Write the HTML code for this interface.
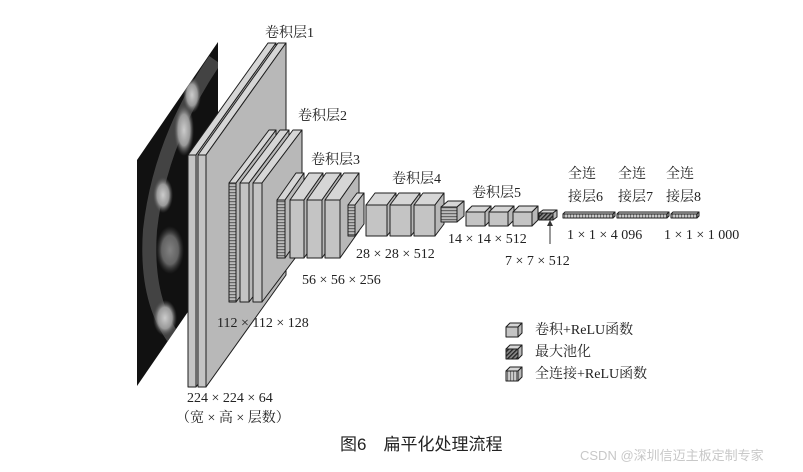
<!DOCTYPE html>
<html><head><meta charset="utf-8">
<style>
html,body{margin:0;padding:0;background:#fff;}
svg{display:block;}
.t{font-family:"Liberation Serif","Noto Serif CJK SC",serif;font-size:14px;fill:#222;}
</style></head>
<body>
<svg id="s" width="803" height="472" viewBox="0 0 803 472" xmlns="http://www.w3.org/2000/svg">
<defs>
<pattern id="hs" width="4" height="3" patternUnits="userSpaceOnUse"><rect width="4" height="3" fill="#bbb"/><rect width="4" height="1.2" fill="#666"/></pattern>
<pattern id="hd" width="3" height="3" patternUnits="userSpaceOnUse" patternTransform="rotate(45)"><rect width="3" height="3" fill="#888"/><rect width="1.3" height="3" fill="#222"/></pattern>
<pattern id="vs" width="3" height="4" patternUnits="userSpaceOnUse"><rect width="3" height="4" fill="#ccc"/><rect width="1.1" height="4" fill="#777"/></pattern>
<radialGradient id="bl" cx="0.5" cy="0.5" r="0.5"><stop offset="0" stop-color="#ccc"/><stop offset="0.6" stop-color="#999"/><stop offset="1" stop-color="#555" stop-opacity="0"/></radialGradient>
<clipPath id="ic"><polygon points="137,160 218,42 218,268 137,386"/></clipPath>
</defs>
<!-- input image -->
<polygon points="137,160 218,42 218,268 137,386" fill="#111"/>
<g clip-path="url(#ic)">
<path d="M215,60 Q160,140 150,230 Q145,300 175,340" stroke="#666" stroke-width="14" fill="none" opacity="0.6"/>
<ellipse cx="184" cy="130" rx="10" ry="26" fill="url(#bl)"/>
<ellipse cx="192" cy="95" rx="9" ry="18" fill="url(#bl)"/>
<ellipse cx="163" cy="195" rx="10" ry="18" fill="url(#bl)"/>
<ellipse cx="170" cy="250" rx="14" ry="24" fill="url(#bl)" opacity="0.6"/>
<ellipse cx="165" cy="318" rx="12" ry="18" fill="url(#bl)"/>
</g>
<g id="boxes"></g>
<!-- arrow -->
<line x1="550" y1="244" x2="550" y2="225" stroke="#333" stroke-width="1"/>
<polygon points="547,226 553,226 550,220" fill="#333"/>
<g id="leg"></g>
<!-- labels -->
<text class="t" x="265" y="37">卷积层1</text>
<text class="t" x="298" y="120">卷积层2</text>
<text class="t" x="311" y="164">卷积层3</text>
<text class="t" x="392" y="183">卷积层4</text>
<text class="t" x="472" y="197">卷积层5</text>
<text class="t" x="568" y="178">全连</text>
<text class="t" x="568" y="201">接层6</text>
<text class="t" x="618" y="178">全连</text>
<text class="t" x="618" y="201">接层7</text>
<text class="t" x="666" y="178">全连</text>
<text class="t" x="666" y="201">接层8</text>
<text class="t" x="567" y="239">1 × 1 × 4 096</text>
<text class="t" x="664" y="239">1 × 1 × 1 000</text>
<text class="t" x="448" y="243">14 × 14 × 512</text>
<text class="t" x="356" y="258">28 × 28 × 512</text>
<text class="t" x="505" y="265">7 × 7 × 512</text>
<text class="t" x="302" y="284">56 × 56 × 256</text>
<text class="t" x="217" y="327">112 × 112 × 128</text>
<text class="t" x="187" y="402">224 × 224 × 64</text>
<text class="t" x="176" y="422">（宽 × 高 × 层数）</text>
<text class="t" x="535" y="334">卷积+ReLU函数</text>
<text class="t" x="535" y="356">最大池化</text>
<text class="t" x="535" y="378">全连接+ReLU函数</text>
<text x="340" y="450" style="font-family:'Liberation Sans','Noto Sans CJK SC',sans-serif;font-size:17px;fill:#222">图6　扁平化处理流程</text>
<text x="580" y="460" style="font-family:'Liberation Sans','Noto Sans CJK SC',sans-serif;font-size:13px;fill:#c8c8c8">CSDN @深圳信迈主板定制专家</text>
</svg>
<script>
var NS="http://www.w3.org/2000/svg";
function poly(g,pts,fill){var p=document.createElementNS(NS,"polygon");p.setAttribute("points",pts.map(function(a){return a.join(",")}).join(" "));p.setAttribute("fill",fill);p.setAttribute("stroke","#1e1e1e");p.setAttribute("stroke-width","1");p.setAttribute("stroke-linejoin","round");g.appendChild(p);}
function box(g,x,y,w,h,dx,dy,front){
 poly(g,[[x,y],[x+dx,y+dy],[x+w+dx,y+dy],[x+w,y]],"#d6d6d6");
 poly(g,[[x+w,y],[x+w+dx,y+dy],[x+w+dx,y+h+dy],[x+w,y+h]],"#b8b8b8");
 poly(g,[[x,y],[x+w,y],[x+w,y+h],[x,y+h]],front||"#c4c4c4");
}
var g=document.getElementById("boxes");
box(g,188,155,8,232,80,-112);
box(g,198,155,8,232,80,-112);
box(g,229,183,7,119,40,-53,"url(#hs)");
box(g,240,183,9,119,40,-53);
box(g,253,183,9,119,40,-53);
box(g,277,200,8,58,19,-27,"url(#hs)");
box(g,290,200,14,58,19,-27);
box(g,307,200,15,58,19,-27);
box(g,325,200,15,58,19,-27);
box(g,348,205,7,31,9,-12,"url(#hs)");
box(g,366,205,21,31,9,-12);
box(g,390,205,21,31,9,-12);
box(g,414,205,21,31,9,-12);
box(g,441,207,16,15,7,-6,"url(#hs)");
box(g,466,212,19,14,6,-6);
box(g,489,212,19,14,6,-6);
box(g,513,212,19,14,6,-6);
box(g,539,213,14,7,4,-3,"url(#hd)");
box(g,563,214,50,4,2,-2,"url(#vs)");
box(g,617,214,50,4,2,-2,"url(#vs)");
box(g,671,214,26,4,2,-2,"url(#vs)");
var l=document.getElementById("leg");
box(l,506,327,12,10,4,-4);
box(l,506,349,12,10,4,-4,"url(#hd)");
box(l,506,371,12,10,4,-4,"url(#vs)");
</script>
</body></html>
